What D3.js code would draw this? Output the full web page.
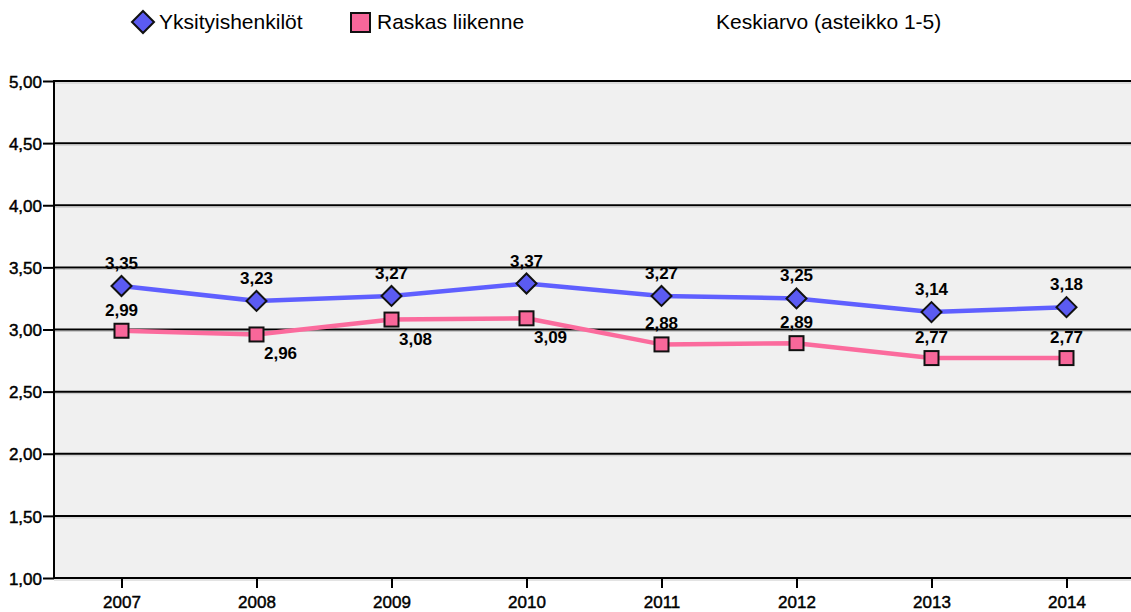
<!DOCTYPE html>
<html><head><meta charset="utf-8">
<script src="https://cdn.jsdelivr.net/npm/d3@7"></script>
<style>
html,body{margin:0;padding:0;background:#fff;}
svg{display:block;font-family:"Liberation Sans",Arial,sans-serif;}
</style></head>
<body>
<svg id="chart" width="1131" height="612"></svg>
<script>
const years = ["2007","2008","2009","2010","2011","2012","2013","2014"];
const yksityis = [3.35,3.23,3.27,3.37,3.27,3.25,3.14,3.18];
const raskas = [2.99,2.96,3.08,3.09,2.88,2.89,2.77,2.77];
const yTicks = [1,1.5,2,2.5,3,3.5,4,4.5,5];
const seriesNames = ["Yksityishenkilöt","Raskas liikenne"];
const subtitle = "Keskiarvo (asteikko 1-5)";
// label placement for Raskas liikenne: true = below-right of marker
const raskasBelow = [false,true,true,true,false,false,false,false];

const svg = d3.select("#chart");
const L = 54, R = 1134, T = 81, B = 578;
const x = d3.scalePoint().domain(years).range([L, R]).padding(0.5);
const y = d3.scaleLinear().domain([1,5]).range([B, T]);
const fmt = v => d3.format(".2f")(v).replace(".", ",");

const blueLine = "#5f5fff", blueFill = "#5b5bf2";
const pinkLine = "#fb6b9d", pinkFill = "#f8679a";

// plot background
svg.append("rect").attr("x", L).attr("y", T).attr("width", 1131 - L).attr("height", B - T).attr("fill", "#f0f0f0");

// y axis ticks and labels
const yAxis = d3.axisLeft(y).tickValues(yTicks).tickFormat(fmt).tickSize(11).tickPadding(1);
const gy = svg.append("g").attr("transform", `translate(${L},0)`).call(yAxis);
gy.select(".domain").remove();
gy.selectAll(".tick line").attr("stroke", "#000").attr("stroke-width", 2);
gy.selectAll(".tick text").attr("font-size", 17).attr("fill", "#000").attr("stroke", "#000").attr("stroke-width", 0.45)
  .attr("font-family", "Liberation Sans, Arial, sans-serif").attr("dy", "0.36em");

// gridlines
svg.append("g").selectAll("line").data(yTicks).join("line")
  .attr("x1", L).attr("x2", 1131).attr("y1", d => y(d)).attr("y2", d => y(d))
  .attr("stroke", "#000").attr("stroke-width", 2);
svg.append("g").selectAll("line").data(yTicks).join("line")
  .attr("x1", L).attr("x2", 1131).attr("y1", d => y(d) + 2).attr("y2", d => y(d) + 2)
  .attr("stroke", "#c8c8c8").attr("stroke-width", 1);

// left axis line
svg.append("line").attr("x1", L).attr("x2", L).attr("y1", T - 1).attr("y2", B + 1).attr("stroke", "#000").attr("stroke-width", 2);

// x axis
const xAxis = d3.axisBottom(x).tickSize(10).tickPadding(8);
const gx = svg.append("g").attr("transform", `translate(0,${B})`).call(xAxis);
gx.select(".domain").remove();
gx.selectAll(".tick line").attr("stroke", "#000").attr("stroke-width", 2);
gx.selectAll(".tick text").attr("font-size", 17).attr("fill", "#000").attr("stroke", "#000").attr("stroke-width", 0.45)
  .attr("font-family", "Liberation Sans, Arial, sans-serif");

// lines
const line = d3.line().x((d, i) => x(years[i])).y(d => y(d));
svg.append("path").datum(raskas).attr("d", line).attr("fill", "none").attr("stroke", pinkLine).attr("stroke-width", 4.5).attr("stroke-linejoin", "round");
svg.append("path").datum(yksityis).attr("d", line).attr("fill", "none").attr("stroke", blueLine).attr("stroke-width", 4.5).attr("stroke-linejoin", "round");

// markers
const diamond = s => `M0,${-s}L${s},0L0,${s}L${-s},0Z`;
svg.append("g").selectAll("path").data(yksityis).join("path")
  .attr("d", diamond(10))
  .attr("transform", (d, i) => `translate(${x(years[i])},${y(d)})`)
  .attr("fill", blueFill).attr("stroke", "#111").attr("stroke-width", 2);
svg.append("g").selectAll("rect").data(raskas).join("rect")
  .attr("x", (d, i) => x(years[i]) - 7).attr("y", d => y(d) - 7)
  .attr("width", 14).attr("height", 14)
  .attr("fill", pinkFill).attr("stroke", "#111").attr("stroke-width", 2);

// data labels
svg.append("g").selectAll("text").data(yksityis).join("text")
  .attr("x", (d, i) => x(years[i])).attr("y", d => y(d) - 17)
  .attr("text-anchor", "middle").attr("font-size", 17).attr("font-weight", "bold").attr("fill", "#000")
  .text(fmt);
svg.append("g").selectAll("text").data(raskas).join("text")
  .attr("x", (d, i) => x(years[i]) + (raskasBelow[i] ? 24 : 0))
  .attr("y", (d, i) => y(d) + (raskasBelow[i] ? 25 : -15))
  .attr("text-anchor", "middle").attr("font-size", 17).attr("font-weight", "bold").attr("fill", "#000")
  .text(fmt);

// legend
const lg = svg.append("g");
lg.append("path").attr("d", diamond(11)).attr("transform", "translate(143,22)")
  .attr("fill", blueFill).attr("stroke", "#111").attr("stroke-width", 2);
lg.append("text").attr("x", 159).attr("y", 29).attr("font-size", 21).attr("fill", "#000").text(seriesNames[0]);
lg.append("rect").attr("x", 351).attr("y", 13).attr("width", 19).attr("height", 19)
  .attr("fill", pinkFill).attr("stroke", "#111").attr("stroke-width", 2);
lg.append("text").attr("x", 377).attr("y", 29).attr("font-size", 21).attr("fill", "#000").text(seriesNames[1]);
lg.append("text").attr("x", 716).attr("y", 29).attr("font-size", 21).attr("fill", "#000").text(subtitle);
</script>
</body></html>
